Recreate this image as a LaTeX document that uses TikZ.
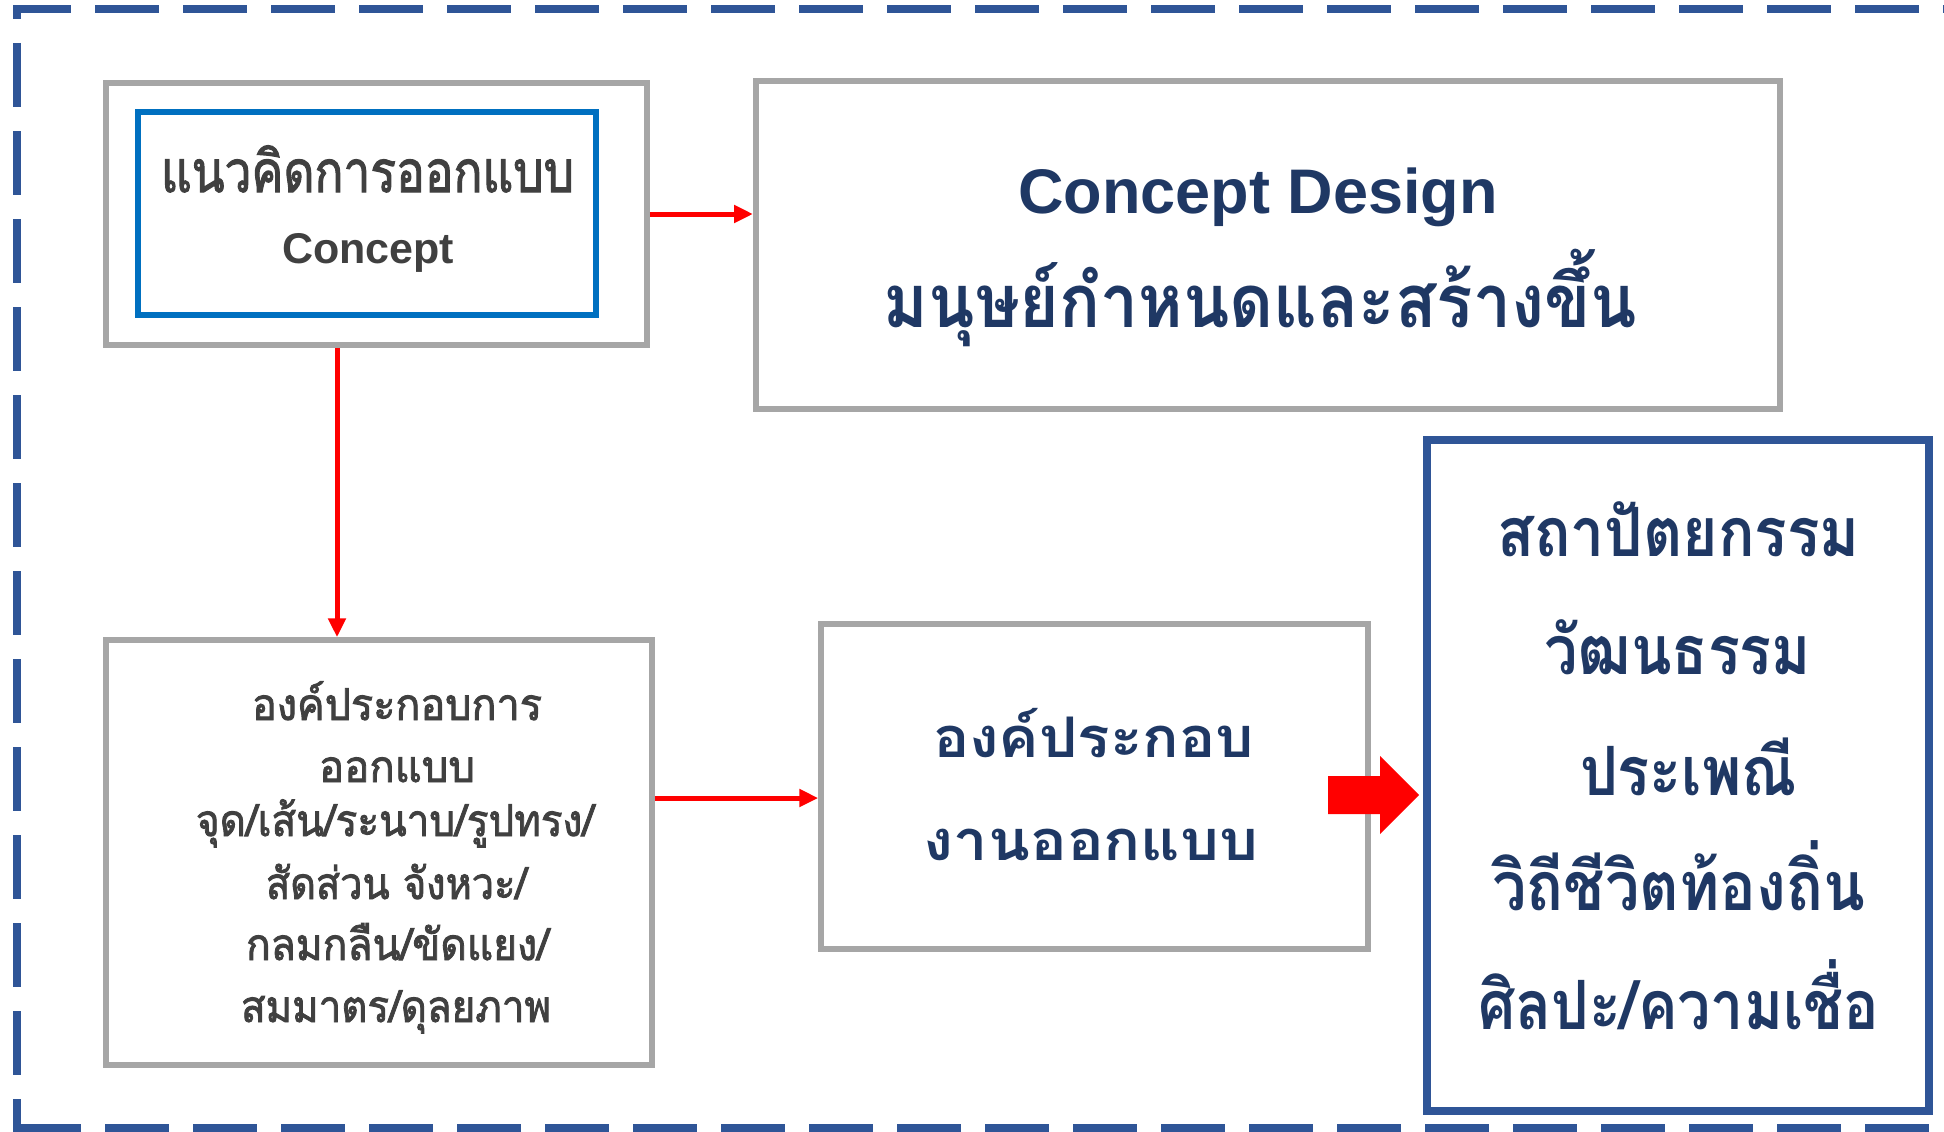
\documentclass[tikz,border=0pt]{standalone}
\usepackage{fontspec}
\usepackage{graphicx}
\usetikzlibrary{arrows.meta}
\newfontfamily\thai[Script=Thai]{Loma}
\newfontfamily\thaimed[Script=Thai,FakeBold=2]{Loma}
\newfontfamily\arial{Liberation Sans}
\definecolor{dashblue}{RGB}{47,85,151}
\definecolor{navytext}{RGB}{31,56,100}
\definecolor{boxgray}{RGB}{166,166,166}
\definecolor{conceptblue}{RGB}{0,112,192}
\definecolor{textgray}{RGB}{64,64,64}
\newcommand\fitw[2]{\resizebox{#1pt}{\height}{#2}}
\newcommand\thr[1]{\thaimed\fontsize{#1}{#1}\selectfont}
\newcommand\thb[1]{\thai\bfseries\fontsize{#1}{#1}\selectfont}
\tikzset{
  graybox/.style={draw=boxgray, rectangle, inner sep=0pt},
  bluebox/.style={draw=conceptblue, rectangle, inner sep=0pt},
  navybox/.style={draw=dashblue, rectangle, inner sep=0pt},
  txt/.style={anchor=base, inner sep=0pt},
  redarrow/.style={draw=red, line width=5pt, -{Triangle[length=19pt,width=17pt]}},
  borderdash/.style={draw=dashblue, line width=8pt, line cap=butt, dash pattern=on 64pt off 24pt}
}
\begin{document}
\begin{tikzpicture}[x=1pt,y=-1pt]
\useasboundingbox (0,0) rectangle (1944,1132);
\fill[white] (0,0) rectangle (1944,1132);
% outer dashed frame
\begin{scope}
\clip (0,0) rectangle (1944,1132);
\draw[borderdash, dash phase=6pt] (13,9) -- (1970,9);
\draw[borderdash, dash phase=54pt] (17,9) -- (17,1150);
\draw[borderdash] (17,1128) -- (1970,1128);
\end{scope}
% boxes
\node[graybox, line width=5.5pt, minimum width=541pt, minimum height=262pt] (b1) at (376.5,214) {};
\node[bluebox, line width=5.5pt, minimum width=458pt, minimum height=203pt] (b1i) at (367,213.5) {};
\node[graybox, line width=6pt, minimum width=1024pt, minimum height=328pt] (b2) at (1268,245) {};
\node[graybox, line width=5.5pt, minimum width=546pt, minimum height=425pt] (b3) at (379,852.5) {};
\node[graybox, line width=5.5pt, minimum width=547pt, minimum height=325pt] (b4) at (1094.5,786.5) {};
\node[navybox, line width=8pt, minimum width=502pt, minimum height=671pt] (b5) at (1678,775.5) {};
% texts box 1
\node[txt, text=textgray] (t1a) at (367.5,192) {\fitw{413}{\thr{58}แนวคิดการออกแบบ}};
\node[txt, text=textgray] (t1b) at (368,263) {\arial\bfseries\fontsize{43}{43}\selectfont Concept};
% box 2
\node[txt, text=navytext] (t2a) at (1258,213) {\arial\bfseries\fontsize{63}{63}\selectfont Concept Design};
\node[txt, text=navytext] (t2b) at (1260.5,327) {\fitw{753}{\thb{74}มนุษย์กำหนดและสร้างขึ้น}};
% box 3
\node[txt, text=textgray] (t3a) at (397,720) {\fitw{290}{\thr{44}องค์ประกอบการ}};
\node[txt, text=textgray] (t3b) at (397,782) {\fitw{156}{\thr{44}ออกแบบ}};
\node[txt, text=textgray] (t3c) at (395,836) {\fitw{398}{\thr{44}จุด/เส้น/ระนาบ/รูปทรง/}};
\node[txt, text=textgray] (t3d) at (396.5,899) {\fitw{261}{\thr{44}สัดส่วน จังหวะ/}};
\node[txt, text=textgray] (t3e) at (397.5,960) {\fitw{303}{\thr{44}กลมกลืน/ขัดแยง/}};
\node[txt, text=textgray] (t3f) at (396,1022) {\fitw{310}{\thr{44}สมมาตร/ดุลยภาพ}};
% box 4
\node[txt, text=navytext] (t4a) at (1093.5,757) {\fitw{321}{\thb{56}องค์ประกอบ}};
\node[txt, text=navytext] (t4b) at (1091,860) {\fitw{334}{\thb{56}งานออกแบบ}};
% box 5
\node[txt, text=navytext] (t5a) at (1678.5,556) {\fitw{363}{\thb{68}สถาปัตยกรรม}};
\node[txt, text=navytext] (t5b) at (1677.5,674) {\fitw{267}{\thb{68}วัฒนธรรม}};
\node[txt, text=navytext] (t5c) at (1688.5,795) {\fitw{217}{\thb{68}ประเพณี}};
\node[txt, text=navytext] (t5d) at (1678.5,910) {\fitw{373}{\thb{68}วิถีชีวิตท้องถิ่น}};
\node[txt, text=navytext] (t5e) at (1678.5,1029) {\fitw{401}{\thb{68}ศิลปะ/ความเชื่อ}};
% connectors
\coordinate (vx) at (337,0);
\coordinate (hy) at (0,798);
\draw[redarrow] (b1.east) -- (b1.east -| b2.west);
\draw[redarrow] (b1.south -| vx) -- (b3.north -| vx);
\draw[redarrow] (b3.east |- hy) -- (b4.west |- hy);
\fill[red] (1328,776) -- (1380,776) -- (1380,756) -- (1419,795) -- (1380,834) -- (1380,814) -- (1328,814) -- cycle;
\end{tikzpicture}
\end{document}
